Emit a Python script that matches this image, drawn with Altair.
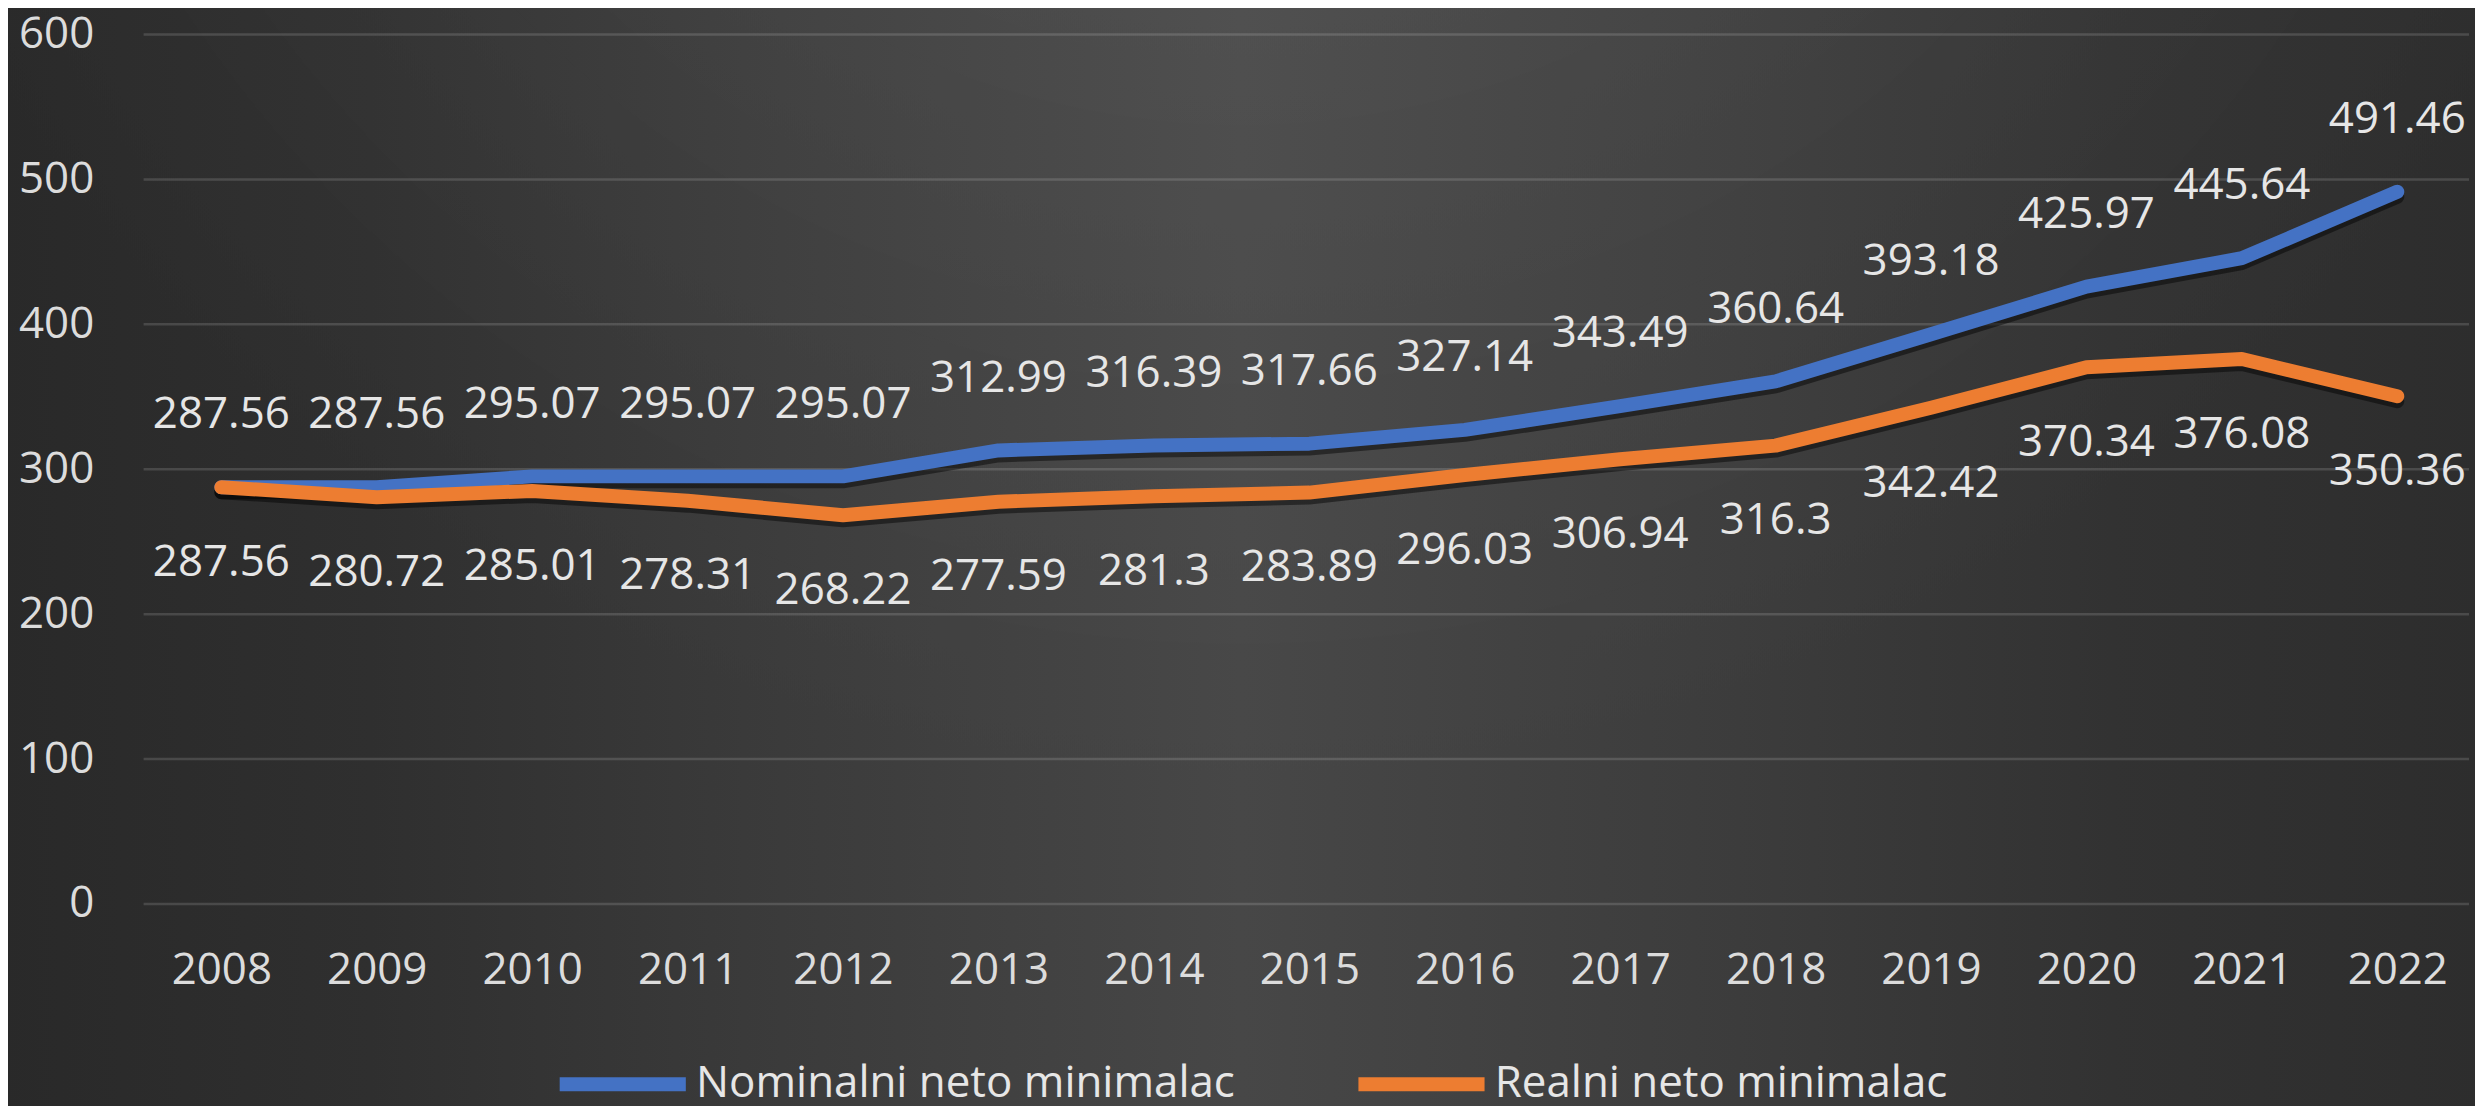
import altair as alt
import pandas as pd

years = [str(y) for y in range(2008, 2023)]
nominal = [287.56, 287.56, 295.07, 295.07, 295.07, 312.99, 316.39, 317.66, 327.14, 343.49, 360.64, 393.18, 425.97, 445.64, 491.46]
real = [287.56, 280.72, 285.01, 278.31, 268.22, 277.59, 281.3, 283.89, 296.03, 306.94, 316.3, 342.42, 370.34, 376.08, 350.36]
series_names = ["Nominalni neto minimalac", "Realni neto minimalac"]
series_colors = ["#4472C4", "#ED7D31"]
y_ticks = [0, 100, 200, 300, 400, 500, 600]

rows = []
for i, y in enumerate(years):
    rows.append({"year": y, "value": nominal[i], "series": series_names[0], "label": str(nominal[i])})
    rows.append({"year": y, "value": real[i], "series": series_names[1], "label": str(real[i])})
df = pd.DataFrame(rows)
grid_df = pd.DataFrame({"value": y_ticks})

W, H = 2338, 872
PL, PT, PR, PB = 136, 25, 0, 201
FONT = "Open Sans"

one = pd.DataFrame({"a": [0]})
bg_pos = dict(
    x=alt.value(-PL - 10), x2=alt.value(W + PR + 10),
    y=alt.value(-PT - 10), y2=alt.value(H + PB + 10),
)
bg = alt.Chart(one).mark_rect(
    color=alt.Gradient(
        gradient="linear", x1=0, y1=0, x2=1, y2=0,
        stops=[
            alt.GradientStop(offset=0, color="#292929"),
            alt.GradientStop(offset=0.15, color="#2f2f2f"),
            alt.GradientStop(offset=0.3, color="#3a3a3a"),
            alt.GradientStop(offset=0.5, color="#474747"),
            alt.GradientStop(offset=0.7, color="#3c3c3c"),
            alt.GradientStop(offset=0.85, color="#323232"),
            alt.GradientStop(offset=1, color="#2d2d2d"),
        ],
    )
).encode(**bg_pos)
glow = alt.Chart(one).mark_rect(
    color=alt.Gradient(
        gradient="radial", x1=0.5, y1=0.0, r1=0.0, x2=0.5, y2=0.0, r2=0.6,
        stops=[
            alt.GradientStop(offset=0, color="rgba(255,255,255,0.09)"),
            alt.GradientStop(offset=1, color="rgba(255,255,255,0)"),
        ],
    )
).encode(**bg_pos)

yscale = alt.Scale(domain=[0, 600], nice=False)
yaxis = alt.Axis(title=None, values=y_ticks, domain=False, ticks=False, grid=False,
                 labelFont=FONT, labelFontSize=44, labelColor="#dcdcdc",
                 labelPadding=50, zindex=1)
yenc = alt.Y("value:Q", scale=yscale, axis=yaxis)

xenc = alt.X("year:O", scale=alt.Scale(padding=0.5),
             axis=alt.Axis(title=None, labelAngle=0, domain=False, ticks=False, grid=False,
                           labelFont=FONT, labelFontSize=44, labelColor="#dcdcdc",
                           labelBaseline="middle", labelPadding=67, zindex=1))

grid = alt.Chart(grid_df).mark_rule(color="#ffffff", opacity=0.14, strokeWidth=2.5).encode(
    y=yenc, x=alt.value(0), x2=alt.value(W - 6),
)

color = alt.Color("series:N", scale=alt.Scale(domain=series_names, range=series_colors),
                  legend=alt.Legend(title=None, orient="none", legendX=410, legendY=982,
                                    direction="horizontal", symbolType="stroke",
                                    symbolSize=16000, symbolStrokeWidth=14,
                                    labelFont=FONT, labelFontSize=44, labelColor="#e6e6e6",
                                    labelOffset=3, columnPadding=95, labelLimit=1000,
                                    zindex=1))

shadow = alt.Chart(df).mark_line(strokeWidth=14, color="#000000", opacity=0.45,
                                 strokeCap="round", strokeJoin="round", yOffset=5).encode(
    x=xenc, y=yenc, detail="series:N")

lines = alt.Chart(df).mark_line(strokeWidth=14, strokeCap="round", strokeJoin="round").encode(
    x=xenc, y=yenc, color=color)

nom_text = alt.Chart(df[df.series == series_names[0]]).mark_text(
    font=FONT, fontSize=44, color="#e6e6e6", dy=-72, baseline="middle").encode(
    x=xenc, y=yenc, text="label:N")
real_text = alt.Chart(df[df.series == series_names[1]]).mark_text(
    font=FONT, fontSize=44, color="#e6e6e6", dy=76, baseline="middle").encode(
    x=xenc, y=yenc, text="label:N")

chart = alt.layer(bg, glow, grid, shadow, lines, nom_text, real_text).properties(
    width=W, height=H,
    padding={"left": PL, "top": PT, "right": PR, "bottom": PB},
    autosize=alt.AutoSizeParams(type="none"),
    background="#303030",
).configure_view(stroke=None)

chart.save("out.html", embed_options={"renderer": "svg", "actions": False})
